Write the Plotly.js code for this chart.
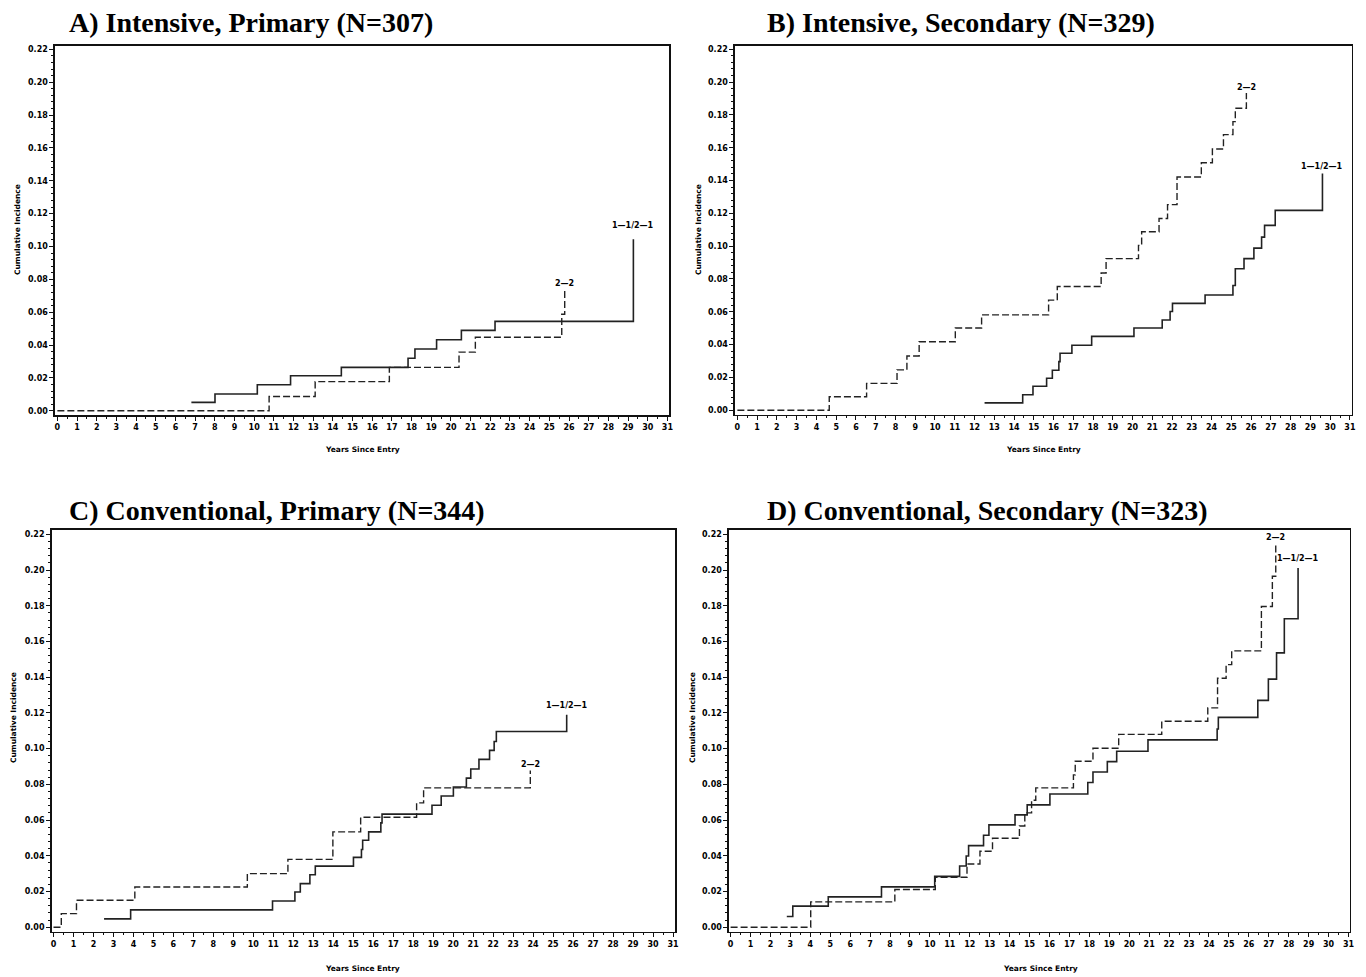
<!DOCTYPE html>
<html><head><meta charset="utf-8">
<script src="https://cdn.plot.ly/plotly-3.0.1.min.js"></script>
<style>html,body{margin:0;padding:0;background:#fff}#chart{width:1366px;height:977px}</style>
</head><body><div id="chart"></div>
<script>
// ---------- DATA (years since entry, cumulative incidence) ----------
// A) Intensive, Primary
const aSolidX = [6.81, 8.01, 10.16, 11.85, 14.43, 17.82, 18.17, 19.27, 20.53, 22.24, 29.27];
const aSolidY = [0.0051, 0.0102, 0.0158, 0.0213, 0.0264, 0.0319, 0.0376, 0.0432, 0.0489, 0.0544, 0.1043];
const aDashX  = [0, 10.76, 13.10, 16.87, 20.41, 21.24, 25.63, 25.78];
const aDashY  = [0, 0.0087, 0.0177, 0.0264, 0.0357, 0.0447, 0.0587, 0.0739];
// B) Intensive, Secondary
const bSolidX = [12.51, 14.44, 14.96, 15.65, 15.94, 16.27, 16.33, 16.93, 17.93, 20.07, 21.50, 21.90, 22.02, 23.67, 25.08, 25.20, 25.64, 26.14, 26.53, 26.68, 27.22, 29.61];
const bSolidY = [0.0045, 0.0094, 0.0146, 0.0195, 0.0244, 0.0296, 0.0347, 0.0396, 0.0450, 0.0501, 0.0550, 0.0602, 0.0651, 0.0702, 0.0760, 0.0862, 0.0924, 0.0988, 0.1055, 0.1127, 0.1218, 0.1443];
const bDashX  = [0, 4.65, 6.54, 8.08, 8.58, 9.20, 11.03, 12.36, 15.75, 16.19, 18.41, 18.66, 20.30, 20.46, 21.34, 21.77, 22.25, 23.48, 24.04, 24.60, 25.08, 25.20, 25.76];
const bDashY  = [0, 0.0082, 0.0164, 0.0246, 0.0331, 0.0417, 0.0501, 0.0581, 0.0671, 0.0754, 0.0836, 0.0924, 0.1005, 0.1088, 0.1169, 0.1253, 0.1422, 0.1508, 0.1592, 0.1680, 0.1759, 0.1841, 0.1933];
// C) Conventional, Primary
const cSolidX = [2.53, 3.86, 10.96, 12.08, 12.35, 12.83, 13.10, 15.01, 15.41, 15.47, 15.77, 16.38, 16.44, 18.94, 19.40, 20.01, 20.66, 20.88, 21.29, 21.82, 22.05, 22.16, 25.68];
const cSolidY = [0.0047, 0.0097, 0.0147, 0.0197, 0.0244, 0.0294, 0.0342, 0.0391, 0.0435, 0.0487, 0.0534, 0.0584, 0.0633, 0.0683, 0.0735, 0.0785, 0.0835, 0.0886, 0.0940, 0.0990, 0.1040, 0.1096, 0.1189];
const cDashX  = [0, 0.39, 1.15, 4.07, 9.70, 11.73, 13.98, 15.37, 18.17, 18.52, 23.86];
const cDashY  = [0, 0.0076, 0.0151, 0.0225, 0.0300, 0.0380, 0.0534, 0.0616, 0.0696, 0.0780, 0.0878];
// D) Conventional, Secondary
const dSolidX = [2.82, 3.12, 4.90, 7.57, 10.24, 11.49, 11.82, 11.94, 12.69, 12.96, 14.27, 14.88, 16.02, 17.92, 18.18, 18.90, 19.37, 20.94, 24.41, 24.47, 26.45, 26.98, 27.39, 27.78, 28.47];
const dSolidY = [0.0060, 0.0118, 0.0170, 0.0226, 0.0285, 0.0343, 0.0399, 0.0457, 0.0515, 0.0573, 0.0629, 0.0685, 0.0746, 0.0810, 0.0869, 0.0927, 0.0985, 0.1049, 0.1110, 0.1175, 0.1270, 0.1389, 0.1536, 0.1727, 0.2011];
const dDashX  = [0, 4.02, 8.24, 10.27, 11.86, 12.51, 13.14, 14.49, 14.76, 15.10, 15.31, 17.20, 17.29, 18.18, 19.47, 21.63, 23.94, 24.43, 24.86, 25.14, 26.63, 27.18, 27.35];
const dDashY  = [0, 0.0142, 0.0211, 0.0280, 0.0354, 0.0425, 0.0498, 0.0567, 0.0640, 0.0711, 0.0780, 0.0853, 0.0929, 0.1002, 0.1080, 0.1153, 0.1228, 0.1394, 0.1470, 0.1547, 0.1796, 0.1965, 0.2151];

const panelTitles = ['A) Intensive, Primary (N=307)', 'B) Intensive, Secondary (N=329)',
                     'C) Conventional, Primary (N=344)', 'D) Conventional, Secondary (N=323)'];
const solidLabel = '1\u20141/2\u20141';
const dashLabel = '2\u20142';
const xTitle = 'Years Since Entry';
const yTitle = 'Cumulative Incidence';

// ---------- LAYOUT (pixel geometry) ----------
const W = 1366, H = 977;
const px = v => v / W, py = v => 1 - v / H;
const panels = [
  {sx:aSolidX, sy:aSolidY, dx:aDashX, dy:aDashY, frame:[55,46,669,415], yr:[-0.0026,0.222], xr:[-0.12,31.08],
   title:[67,23], xt:[362,449], yt:[17,230], sShift:14, dShift:6},
  {sx:bSolidX, sy:bSolidY, dx:bDashX, dy:bDashY, frame:[735,46,1351.5,414.5], yr:[-0.0026,0.222], xr:[-0.12,31.08],
   title:[765,23], xt:[1043,449], yt:[698,230], sShift:7, dShift:6},
  {sx:cSolidX, sy:cSolidY, dx:cDashX, dy:cDashY, frame:[51.7,530,675,931.7], yr:[-0.0025,0.2224], xr:[-0.09,31.1],
   title:[67,510], xt:[362,968], yt:[13,718], sShift:9, dShift:6},
  {sx:dSolidX, sy:dSolidY, dx:dDashX, dy:dDashY, frame:[729,530,1349.5,931.7], yr:[-0.0025,0.2224], xr:[-0.08,31.05],
   title:[765,510], xt:[1040,968], yt:[692,718], sShift:10, dShift:6}
];

const tickFont = {family:'DejaVu Sans', size:8, weight:'bold', color:'#000'};
const lblFont = {family:'DejaVu Sans', size:8, weight:'bold', color:'#000'};
const layout = {
  width: W, height: H, margin:{l:0,r:0,t:0,b:0},
  paper_bgcolor:'#fff', plot_bgcolor:'#fff', showlegend:false,
  annotations: []
};
const traces = [];
panels.forEach((p, i) => {
  const n = i === 0 ? '' : String(i + 1);
  const [x0, y0, x1, y1] = p.frame;
  layout['xaxis' + n] = {
    domain:[px(x0), px(x1)], range:p.xr, anchor:'y' + n,
    showline:true, linecolor:'#111', linewidth:1.6, mirror:true,
    ticks:'outside', ticklen:4, tickwidth:1, tickcolor:'#111', tick0:0, dtick:1,
    minor:{ticks:'outside', ticklen:2, tickwidth:1, tickcolor:'#111', tick0:0, dtick:0.5, showgrid:false},
    tickfont:tickFont, showgrid:false, zeroline:false, fixedrange:true
  };
  layout['yaxis' + n] = {
    domain:[py(y1), py(y0)], range:p.yr, anchor:'x' + n,
    showline:true, linecolor:'#111', linewidth:1.6, mirror:true,
    ticks:'outside', ticklen:4, tickwidth:1, tickcolor:'#111', tick0:0, dtick:0.02, tickformat:'.2f',
    minor:{ticks:'outside', ticklen:2, tickwidth:1, tickcolor:'#111', tick0:0, dtick:0.004, showgrid:false},
    tickfont:tickFont, showgrid:false, zeroline:false, fixedrange:true
  };
  traces.push({x:p.dx, y:p.dy, type:'scatter', mode:'lines', xaxis:'x' + n, yaxis:'y' + n,
    line:{shape:'hv', color:'#222', width:1.4, dash:'7px,3px'}, hoverinfo:'skip'});
  traces.push({x:p.sx, y:p.sy, type:'scatter', mode:'lines', xaxis:'x' + n, yaxis:'y' + n,
    line:{shape:'hv', color:'#222', width:1.6}, hoverinfo:'skip'});
  // panel title
  layout.annotations.push({text:'<b>' + panelTitles[i] + '</b>', xref:'paper', yref:'paper',
    x:px(p.title[0]), y:py(p.title[1]), xanchor:'left', yanchor:'middle', showarrow:false,
    font:{family:'Liberation Serif', size:28, color:'#000'}});
  // axis titles
  layout.annotations.push({text:xTitle, xref:'paper', yref:'paper', x:px(p.xt[0]), y:py(p.xt[1]),
    xanchor:'center', yanchor:'middle', showarrow:false, font:{family:'DejaVu Sans', size:7.5, weight:'bold', color:'#000'}});
  layout.annotations.push({text:yTitle, xref:'paper', yref:'paper', x:px(p.yt[0]), y:py(p.yt[1]), textangle:-90,
    xanchor:'center', yanchor:'middle', showarrow:false, font:{family:'DejaVu Sans', size:7.5, weight:'bold', color:'#000'}});
  // curve labels at the ends of the curves
  const sl = p.sx.length - 1, dl = p.dx.length - 1;
  layout.annotations.push({text:solidLabel, xref:'x' + n, yref:'y' + n, x:p.sx[sl], y:p.sy[sl],
    xanchor:'center', yanchor:'middle', yshift:p.sShift, showarrow:false, font:lblFont});
  layout.annotations.push({text:dashLabel, xref:'x' + n, yref:'y' + n, x:p.dx[dl], y:p.dy[dl],
    xanchor:'center', yanchor:'middle', yshift:p.dShift, showarrow:false, font:lblFont});
});

Plotly.newPlot('chart', traces, layout, {staticPlot:true, displayModeBar:false});
</script></body></html>
